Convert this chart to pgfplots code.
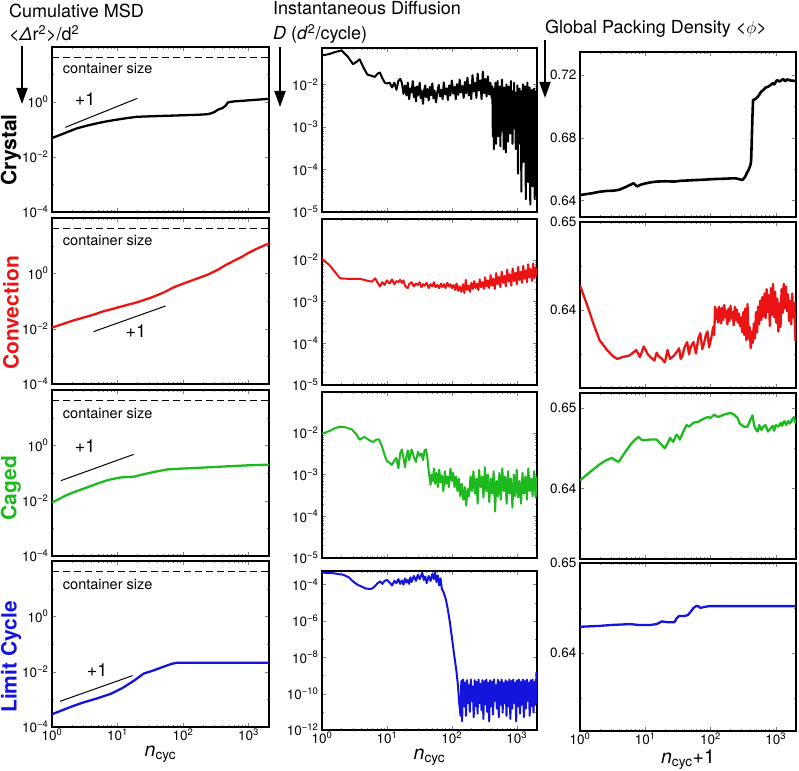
\documentclass[border=0pt]{standalone}
\usepackage{pgfplots}
\pgfplotsset{compat=1.18}
\usepackage{fontspec}
\setmainfont{TeX Gyre Heros}
\usetikzlibrary{arrows.meta}
\definecolor{cred}{RGB}{235,20,20}
\definecolor{cgreen}{RGB}{30,185,30}
\definecolor{cblue}{RGB}{20,20,220}
\newcommand\E[1]{10\textsuperscript{#1}}
\tikzset{
  mycs/.style={anchor=west, font=\fontsize{14.5}{14.5}\selectfont},
  myp1/.style={font=\fontsize{18}{18}\selectfont},
}
\pgfplotsset{
  mypan/.style={scale only axis, anchor=north west, xmin=1, xmax=2050,
    xtick={1,10,100,1000}, xticklabels={},
    axis line style={line width=1.2pt},
    major tick length=4pt, minor tick length=2.2pt,
    tick label style={font=\fontsize{13.5}{13.5}\selectfont}},
  mybot/.style={xticklabels={\E{0},\E{1},\E{2},\E{3}},
    xticklabel style={yshift=1.5pt},
    xlabel style={font=\fontsize{19.5}{19.5}\selectfont, inner sep=0pt, yshift=-1pt}},
  mymsd/.style={mypan, ymin=1e-4, ymax=100, ytick={1e-4,1e-2,1},
    yticklabels={\E{−4},\E{−2},\E{0}}, minor ytick={1e-3,0.1,10}},
  mydif/.style={mypan, ymin=1e-5, ytick={1e-5,1e-4,1e-3,1e-2},
    yticklabels={\E{−5},\E{−4},\E{−3},\E{−2}}},
  myden/.style={mypan, ytick={0.64,0.65}, yticklabels={0.64,0.65}, minor ytick={0.635,0.645}},
  mydat/.style={line width=2.3pt, line join=round},
  mynoise/.style={line width=2pt, line join=round},
  mybox/.style={black, dashed, line width=1.2pt, dash pattern=on 7pt off 4pt},
  myone/.style={black, line width=1pt},
}
\begin{document}
\begin{tikzpicture}
\useasboundingbox (0,0) rectangle (799pt,770pt);
% column titles
\node[anchor=base west, font=\fontsize{18}{18}\selectfont, inner sep=0pt] at (9pt,752pt) {Cumulative MSD};
\node[anchor=base west, font=\fontsize{18}{18}\selectfont, inner sep=0pt] at (9pt,729pt) {<\textit{Δ}r\textsuperscript{2}>/d\textsuperscript{2}};
\node[anchor=base west, font=\fontsize{18}{18}\selectfont, inner sep=0pt] at (273pt,755pt) {Instantaneous Diffusion};
\node[anchor=base west, font=\fontsize{18}{18}\selectfont, inner sep=0pt] at (273pt,730pt) {\textit{D} (\textit{d}\textsuperscript{2}/cycle)};
\node[anchor=base west, font=\fontsize{18}{18}\selectfont, inner sep=0pt] at (545pt,736pt) {Global Packing Density <$\phi$>};
\draw[-{Triangle[width=11pt,length=16pt]}, line width=2pt] (22pt,724pt) -- (22pt,666pt);
\draw[-{Triangle[width=11pt,length=16pt]}, line width=2pt] (280pt,723pt) -- (280pt,663pt);
\draw[-{Triangle[width=11pt,length=16pt]}, line width=2pt] (545pt,730pt) -- (545pt,672pt);
% row labels
\node[rotate=90, font=\bfseries\fontsize{21}{21}\selectfont] at (11pt,620pt) {Crystal};
\node[rotate=90, font=\bfseries\fontsize{21}{21}\selectfont, text=cred] at (11pt,457pt) {Convection};
\node[rotate=90, font=\bfseries\fontsize{21}{21}\selectfont, text=cgreen] at (11pt,282pt) {Caged};
\node[rotate=90, font=\bfseries\fontsize{21}{21}\selectfont, text=cblue] at (11pt,113pt) {Limit Cycle};

%% ---------- column 1: cumulative MSD ----------
\begin{loglogaxis}[mymsd, at={(52pt,723pt)}, width=217pt, height=165pt]
\addplot[mybox] coordinates {(1,42) (2050,42)};
\node[mycs] at (axis cs:1.3,17) {container size};
\addplot[myone] coordinates {(1.6,0.12) (20,1.35)};
\node[myp1] at (axis cs:3.2,1.25) {+1};
\addplot[mydat, black] coordinates {
(1,0.049) (1.3,0.062) (1.7,0.08) (2.4,0.11) (3.5,0.14) (5,0.17) (7,0.2) (10,0.23)
(14,0.26) (20,0.29) (30,0.3) (45,0.31) (70,0.32) (100,0.33) (150,0.34) (200,0.35)
(240,0.36) (280,0.4) (310,0.45) (330,0.5) (360,0.55) (400,0.6) (450,0.75) (480,0.95)
(520,1.0) (600,1.05) (800,1.1) (1000,1.15) (1300,1.2) (1600,1.25) (2050,1.3)};
\end{loglogaxis}

\begin{loglogaxis}[mymsd, at={(52pt,552pt)}, width=217pt, height=166pt]
\addplot[mybox] coordinates {(1,42) (2050,42)};
\node[mycs] at (axis cs:1.3,15) {container size};
\addplot[myone] coordinates {(4.3,0.0078) (54,0.066)};
\node[myp1] at (axis cs:19,0.008) {+1};
\addplot[mydat, cred] coordinates {
(1,0.011) (1.5,0.015) (2,0.019) (3,0.025) (4.3,0.032) (6,0.042) (8,0.05) (10,0.058)
(14,0.072) (20,0.09) (32,0.13) (50,0.2) (74,0.32) (100,0.42) (150,0.6) (240,0.9)
(350,1.4) (450,2.0) (610,2.9) (800,4.0) (1000,5.5) (1300,7.5) (1700,10) (2050,12)};
\end{loglogaxis}

\begin{loglogaxis}[mymsd, at={(52pt,380pt)}, width=217pt, height=166pt]
\addplot[mybox] coordinates {(1,42) (2050,42)};
\node[mycs] at (axis cs:1.3,14.5) {container size};
\addplot[myone] coordinates {(1.37,0.053) (17.6,0.47)};
\node[myp1] at (axis cs:3.2,0.9) {+1};
\addplot[mydat, cgreen] coordinates {
(1,0.0085) (1.5,0.014) (2,0.019) (3.4,0.03) (5,0.042) (7,0.055) (11,0.069) (18,0.074)
(25,0.09) (40,0.115) (59,0.135) (100,0.145) (240,0.16) (500,0.175) (1000,0.19) (2050,0.2)};
\end{loglogaxis}

\begin{loglogaxis}[mymsd, mybot, at={(52pt,209pt)}, width=217pt, height=166pt,
  xlabel={\textit{n}\textsubscript{cyc}}]
\addplot[mybox] coordinates {(1,42) (2050,42)};
\node[mycs] at (axis cs:1.3,14.5) {container size};
\addplot[myone] coordinates {(1.33,0.00085) (17,0.0072)};
\node[myp1] at (axis cs:4.9,0.011) {+1};
\addplot[mydat, cblue] coordinates {
(1,0.00029) (1.5,0.00042) (2,0.00055) (3,0.00077) (5,0.0011) (8,0.0016) (12,0.0026)
(18,0.0048) (25,0.0085) (35,0.011) (50,0.015) (66,0.019) (80,0.021) (100,0.021) (2050,0.021)};
\end{loglogaxis}

%% ---------- column 2: instantaneous diffusion ----------
\begin{loglogaxis}[mydif, at={(322pt,722pt)}, width=215pt, height=164pt, ymax=0.072]
\addplot[mynoise, black] coordinates {
(1,0.048) (1.3,0.052) (1.6,0.058) (2,0.063) (2.5,0.045) (3,0.03) (3.4,0.034) (3.8,0.039)
(4.3,0.026) (5,0.017) (5.8,0.016) (6.5,0.015) (7.2,0.018) (7.8,0.019) (8.5,0.014) (9.3,0.011)
(10,0.0105) (11,0.011) (12,0.0085) (13,0.011) (14,0.0075) (15,0.012) (16,0.0135) (17,0.011)
(18,0.006) (19,0.0095) (20,0.0055) (21,0.011) (22,0.0045) (23,0.008) (24,0.0065) (25,0.012)
(26,0.005) (27,0.0085) (28,0.004) (29,0.009) (30,0.0055) (32,0.011) (33,0.0048) (34,0.0072)
(36,0.0035) (37,0.0068) (39,0.0095) (40,0.005) (42,0.0078) (44,0.0042) (46,0.0088) (48,0.0056)
(50,0.0106) (52,0.0047) (54,0.0072) (57,0.0038) (60,0.0069) (63,0.0098) (66,0.0052) (69,0.0075)
(72,0.0045) (75,0.0112) (79,0.0058) (83,0.0081) (87,0.0043) (91,0.0095) (95,0.0055) (100,0.0124)
(105,0.0061) (110,0.0088) (115,0.0045) (120,0.0102) (126,0.0057) (132,0.013) (138,0.0065) (145,0.0092)
(152,0.0048) (159,0.0115) (166,0.0062) (174,0.0145) (182,0.0055) (190,0.0098) (199,0.0045) (208,0.0165)
(218,0.0068) (228,0.011) (239,0.0048) (250,0.018) (262,0.0072) (274,0.0125) (287,0.0045) (300,0.02)
(314,0.0062) (328,0.0135) (343,0.0052) (359,0.0155) (376,0.0058) (393,0.011) (410,0.0048) (420,0.009)
(428,0.0006) (436,0.006) (444,0.0003) (452,0.008) (461,0.0012) (470,0.011) (479,0.0004) (488,0.007)
(497,0.0018) (507,0.012) (517,0.0006) (527,0.005) (537,0.0025) (548,0.009) (559,0.00035) (570,0.0045)
(581,0.0015) (592,0.013) (604,0.0008) (616,0.006) (628,0.0003) (640,0.0085) (653,0.0012) (666,0.004)
(679,0.00025) (692,0.01) (706,0.0015) (720,0.006) (734,0.00045) (749,0.009) (764,0.002) (779,0.005)
(794,0.0007) (810,0.012) (826,0.0018) (842,0.007) (859,0.0004) (876,0.0045) (893,0.0025) (911,0.011)
(929,0.0009) (947,0.0065) (966,0.0003) (985,0.0055) (1005,0.0012) (1025,0.0095) (1045,0.00008) (1066,0.004)
(1087,0.0016) (1109,0.008) (1131,0.0004) (1154,0.006) (1177,0.00003) (1200,0.007) (1224,0.0011) (1248,0.01)
(1273,0.00015) (1299,0.005) (1325,0.0008) (1351,0.009) (1378,0.00002) (1406,0.0045) (1434,0.0006) (1462,0.011)
(1492,0.00005) (1521,0.006) (1552,0.0009) (1583,0.0085) (1614,0.000015) (1647,0.005) (1680,0.0003) (1713,0.0075)
(1747,0.00004) (1782,0.006) (1818,0.0012) (1854,0.008) (1891,0.00002) (1929,0.004) (1968,0.0005) (2007,0.007)
(2047,0.001)};
\end{loglogaxis}

\begin{loglogaxis}[mydif, at={(322pt,551pt)}, width=215pt, height=166pt, ymax=0.095]
\addplot[mynoise, cred] coordinates {
(1,0.0105) (1.3,0.0075) (1.6,0.005) (1.9,0.0036) (2.5,0.0035) (3,0.0035) (3.8,0.0035) (4.5,0.0033)
(5.2,0.0031) (5.9,0.003) (6.6,0.0036) (7.2,0.0028) (7.8,0.0023) (8.5,0.0029) (9.2,0.0025) (10,0.0032)
(11,0.0027) (12,0.0034) (13,0.0026) (14,0.0031) (15,0.0029) (16,0.0033) (17,0.0028) (18,0.0032)
(19,0.0024) (20,0.0022) (21,0.0021) (22,0.0026) (24,0.0029) (26,0.0023) (28,0.0027) (30,0.0025)
(32,0.0029) (34,0.0022) (36,0.0026) (38,0.0024) (41,0.0028) (44,0.0021) (47,0.0026) (50,0.0023)
(53,0.0029) (56,0.0022) (60,0.0025) (64,0.0021) (68,0.0027) (72,0.0022) (76,0.0026) (80,0.0021)
(85,0.0028) (90,0.0023) (95,0.0026) (100,0.0021) (106,0.0025) (112,0.0019) (118,0.0027) (125,0.0018)
(132,0.0023) (140,0.0017) (148,0.0026) (156,0.0016) (164,0.0033) (172,0.0019) (181,0.0024) (190,0.0017)
(200,0.0028) (210,0.002) (221,0.0031) (232,0.0021) (244,0.0027) (256,0.0019) (269,0.0034) (282,0.0022)
(296,0.0029) (311,0.002) (326,0.0038) (342,0.0023) (359,0.0032) (377,0.0021) (396,0.0043) (416,0.0024)
(437,0.0035) (459,0.002) (482,0.0048) (506,0.0026) (531,0.0039) (558,0.0022) (586,0.0052) (615,0.0028)
(646,0.0041) (678,0.0023) (712,0.0058) (748,0.003) (785,0.0045) (824,0.0024) (865,0.0062) (908,0.0031)
(953,0.0049) (1000,0.0026) (1050,0.0068) (1100,0.0033) (1150,0.0052) (1200,0.0028) (1260,0.0072) (1320,0.0035)
(1380,0.0055) (1440,0.0029) (1500,0.0078) (1570,0.0038) (1640,0.006) (1710,0.0031) (1790,0.0082) (1870,0.0036)
(1950,0.0065) (2047,0.004)};
\end{loglogaxis}

\begin{loglogaxis}[mydif, at={(322pt,378pt)}, width=215pt, height=166pt, ymax=0.095]
\addplot[mynoise, cgreen] coordinates {
(1,0.0095) (1.3,0.011) (1.6,0.013) (1.9,0.014) (2.3,0.0135) (2.9,0.012) (3.4,0.009) (3.8,0.0068)
(4.5,0.008) (5.2,0.0068) (6.1,0.006) (6.8,0.0068) (7.5,0.007) (8.5,0.0045) (9.3,0.0028) (10,0.0021)
(11,0.0019) (11.9,0.0017) (13,0.0022) (14,0.0025) (15,0.0014) (16,0.0032) (17,0.004) (18,0.0025)
(19,0.0015) (20,0.0028) (21,0.0038) (22,0.0022) (24,0.004) (26,0.0026) (28,0.002) (30,0.0035)
(32,0.0028) (34,0.0032) (36,0.0022) (38,0.0038) (40,0.004) (42,0.0025) (44,0.0012) (46,0.00075)
(47,0.00056) (49,0.001) (51,0.0007) (53,0.0014) (55,0.0006) (58,0.0011) (61,0.0005) (64,0.0013)
(67,0.00065) (70,0.00095) (74,0.0004) (78,0.0012) (82,0.0006) (86,0.0009) (90,0.0005) (95,0.0014)
(100,0.0007) (105,0.0011) (110,0.0005) (116,0.0009) (122,0.0004) (128,0.0008) (135,0.0003) (142,0.0006)
(150,0.00025) (158,0.0005) (166,0.00018) (175,0.00045) (184,0.0003) (194,0.0009) (204,0.0004) (215,0.0012)
(226,0.00035) (238,0.0008) (250,0.0002) (263,0.0013) (277,0.0005) (292,0.0009) (307,0.00028) (323,0.0015)
(340,0.0004) (358,0.001) (377,0.00022) (397,0.0008) (418,0.00035) (440,0.0012) (463,0.00013) (487,0.0007)
(513,0.0003) (540,0.0011) (568,0.00025) (598,0.0014) (630,0.0004) (663,0.0009) (698,0.0002) (735,0.0012)
(773,0.00035) (814,0.0008) (857,0.00016) (902,0.001) (949,0.0003) (999,0.0013) (1050,0.00028) (1105,0.0007)
(1165,0.0002) (1225,0.0011) (1290,0.00035) (1360,0.0009) (1430,0.00025) (1505,0.0014) (1585,0.0004) (1670,0.0008)
(1755,0.0003) (1850,0.0012) (1950,0.00028) (2047,0.0009)};
\end{loglogaxis}

\begin{loglogaxis}[mypan, mybot, at={(322pt,199pt)}, width=215pt, height=159pt,
  ymin=1e-12, ymax=5.6e-4, ytick={1e-12,1e-10,1e-8,1e-6,1e-4},
  yticklabels={\E{−12},\E{−10},\E{−8},\E{−6},\E{−4}}, minor ytick={1e-11,1e-9,1e-7,1e-5},
  xlabel={\textit{n}\textsubscript{cyc}}]
\addplot[mynoise, cblue] coordinates {
(1,0.00046) (1.5,0.00042) (2.1,0.00035) (2.6,0.00025) (3,0.00015) (3.5,0.0001) (4,0.00008) (4.8,0.00006)
(5.5,0.000058) (5.9,0.00006) (6.5,0.00008) (7.2,0.00012) (7.9,0.00015) (8.5,0.00011) (9.2,0.00016) (10,0.00018)
(11,0.00013) (12,0.00009) (13,0.00016) (14,0.00012) (15,0.0002) (16,0.00011) (17,0.00017) (18,0.0001)
(19,0.00022) (20,0.00013) (21,0.00018) (22,0.00011) (23,0.00025) (24,0.00014) (26,0.0003) (28,0.00016)
(30,0.00035) (32,0.0002) (35,0.00045) (37,0.00018) (39,0.00028) (41,0.00012) (44,0.0003) (47,0.00016)
(50,0.00038) (53,0.0002) (55,0.00048) (58,0.00014) (61,0.00032) (64,0.00009) (67,0.00022) (70,0.00006)
(75,3.6e-5) (81,1.5e-5) (87,4e-6) (93,9e-7) (100,1.3e-7) (107,2e-8) (117,2e-9) (124,3e-10)
(130,3e-11) (136,6e-12) (140,5e-10) (144,3e-12) (148,6e-10) (150,5e-10) (155,2e-11) (160,4e-10)
(165,6e-12) (171,5.5e-10) (177,3e-11) (183,3e-10) (189,1e-11) (196,6e-10) (203,4e-11) (210,2.5e-10)
(217,5e-12) (225,5.5e-10) (233,2e-11) (241,4.5e-10) (249,8e-12) (258,6e-10) (267,3e-11) (276,3.5e-10)
(286,1.2e-11) (296,5.5e-10) (306,4e-12) (317,4.8e-10) (328,2.5e-11) (339,6e-10) (351,1e-11) (363,4e-10)
(376,3e-12) (389,5.5e-10) (402,2e-11) (416,4.5e-10) (431,7e-12) (446,6e-10) (461,4e-11) (477,3e-10)
(494,1.5e-11) (511,5.8e-10) (529,5e-12) (547,4.5e-10) (566,2.5e-11) (586,6e-10) (606,9e-12) (627,3.8e-10)
(649,3e-11) (672,5.5e-10) (695,6e-12) (719,4.5e-10) (744,2e-11) (770,6e-10) (797,4e-12) (825,5e-10)
(853,1.5e-11) (883,6e-10) (914,3e-11) (946,4e-10) (979,3e-12) (1013,5.5e-10) (1048,2e-11) (1085,6e-10)
(1123,8e-12) (1162,4.5e-10) (1202,2.5e-11) (1244,6e-10) (1287,5e-12) (1332,5e-10) (1379,1.5e-11) (1427,6e-10)
(1477,4e-11) (1528,4e-10) (1581,6e-12) (1636,5.5e-10) (1693,2e-11) (1752,6e-10) (1813,9e-12) (1876,4.5e-10)
(1941,2.5e-11) (2010,1.5e-9) (2047,3e-11)};
\end{loglogaxis}

%% ---------- column 3: global packing density ----------
\begin{semilogxaxis}[mypan, at={(580pt,718pt)}, width=216pt, height=165pt,
  ymin=0.6294, ymax=0.7347, ytick={0.64,0.68,0.72}, yticklabels={0.64,0.68,0.72},
  minor ytick={0.66,0.70}]
\addplot[mydat, black, line width=2.6pt] coordinates {
(1,0.6434) (1.5,0.6445) (2,0.6455) (2.5,0.646) (3.3,0.6462) (4,0.6468) (5,0.6485) (5.6,0.6495)
(6.6,0.6509) (7.5,0.6489) (8.5,0.65) (10,0.6508) (12,0.6515) (15,0.652) (20,0.6522) (28,0.652)
(35,0.6525) (45,0.6527) (60,0.653) (80,0.6532) (100,0.6535) (130,0.6537) (160,0.6538) (200,0.654)
(240,0.6541) (280,0.6535) (310,0.653) (340,0.655) (360,0.6573) (390,0.66) (410,0.6626) (420,0.665)
(430,0.6785) (440,0.693) (450,0.704) (480,0.7045) (530,0.706) (570,0.708) (600,0.7094) (650,0.7105)
(700,0.712) (760,0.7125) (840,0.7136) (900,0.7148) (950,0.714) (1050,0.7168) (1150,0.7158) (1300,0.7174)
(1400,0.716) (1500,0.7172) (1700,0.7165) (2047,0.7162)};
\end{semilogxaxis}

\begin{semilogxaxis}[myden, at={(580pt,548pt)}, width=216pt, height=166pt, ymin=0.6312, ymax=0.65]
\addplot[mydat, cred] coordinates {
(1,0.6428) (1.3,0.6405) (1.6,0.6385) (2,0.6366) (2.6,0.6355) (3.2,0.6348) (3.7,0.6345) (4.5,0.6347)
(5.8,0.6349) (7.3,0.6355) (8.3,0.6347) (9.5,0.6359) (11,0.635) (12.5,0.6346) (13.8,0.6343) (15,0.6352)
(16,0.6348) (18,0.6345) (20,0.6341) (22,0.6355) (24,0.6345) (27,0.6348) (30,0.6352) (33,0.6357)
(35,0.6345) (37,0.6348) (40,0.6358) (44,0.6364) (47,0.635) (50,0.6359) (55,0.6364) (60,0.6351)
(65,0.6368) (70,0.6374) (75,0.6356) (80,0.6363) (85,0.6372) (90,0.6376) (95,0.6358) (100,0.6365)
(105,0.6372) (110,0.6381) (114,0.6372) (118,0.6404) (122,0.639) (126,0.6401) (131,0.6386) (136,0.6404)
(141,0.6393) (146,0.6385) (151,0.6403) (157,0.6389) (163,0.6406) (169,0.6392) (175,0.6399) (182,0.6384)
(189,0.6402) (196,0.6388) (203,0.6405) (211,0.6391) (219,0.6398) (227,0.6383) (236,0.6404) (245,0.6389)
(254,0.6401) (264,0.6386) (274,0.6396) (284,0.6382) (295,0.6392) (306,0.6375) (318,0.6398) (330,0.6372)
(343,0.6402) (356,0.6366) (370,0.6407) (384,0.6368) (399,0.6381) (414,0.6357) (430,0.6376) (446,0.6363)
(463,0.6385) (481,0.6368) (499,0.6398) (518,0.6375) (538,0.6404) (559,0.6384) (580,0.6411) (602,0.6389)
(625,0.6415) (649,0.6393) (674,0.6419) (700,0.6391) (727,0.6424) (755,0.6398) (784,0.6417) (814,0.6382)
(845,0.6425) (877,0.6395) (911,0.643) (946,0.6392) (982,0.6421) (1020,0.6386) (1059,0.6413) (1100,0.6376)
(1142,0.6408) (1186,0.6381) (1231,0.6424) (1278,0.6397) (1327,0.643) (1378,0.6402) (1431,0.6427) (1486,0.6399)
(1543,0.6418) (1602,0.6388) (1664,0.6411) (1728,0.6384) (1794,0.6419) (1863,0.6392) (1934,0.6408) (2000,0.6366)
(2047,0.6378)};
\end{semilogxaxis}

\begin{semilogxaxis}[myden, at={(580pt,377pt)}, width=216pt, height=166pt, ymin=0.6312, ymax=0.6519]
\addplot[mydat, cgreen] coordinates {
(1,0.641) (1.5,0.6422) (2,0.643) (2.5,0.6435) (3.07,0.6438) (3.5,0.6435) (3.9,0.6433) (5,0.6446)
(6,0.6455) (7,0.6461) (7.9,0.6464) (9,0.646) (10,0.646) (12,0.6461) (15,0.6461) (17,0.6456)
(20,0.645) (22,0.6456) (24,0.6463) (27,0.6458) (30,0.6467) (32,0.6465) (34,0.6461) (37,0.6468)
(40,0.6474) (43,0.6479) (47,0.6477) (55,0.6482) (65,0.6483) (75,0.6486) (90,0.6489) (100,0.6488)
(115,0.6492) (130,0.6489) (150,0.6491) (175,0.6493) (205,0.6494) (230,0.6492) (260,0.6488) (280,0.6481)
(300,0.6479) (330,0.6477) (370,0.6477) (400,0.6484) (440,0.6491) (470,0.6478) (500,0.6473) (530,0.6471)
(560,0.6479) (600,0.6473) (650,0.6477) (700,0.6479) (760,0.6471) (820,0.6474) (900,0.6478) (950,0.6472)
(1000,0.6479) (1100,0.6477) (1200,0.6482) (1250,0.6478) (1350,0.6484) (1450,0.6479) (1550,0.6484) (1650,0.6481)
(1800,0.6486) (1900,0.6489) (2000,0.6482) (2047,0.6484)};
\end{semilogxaxis}

\begin{semilogxaxis}[myden, mybot, at={(580pt,207pt)}, width=216pt, height=168pt, ymin=0.6313, ymax=0.65,
  xlabel={\textit{n}\textsubscript{cyc}+1}]
\addplot[mydat, cblue] coordinates {
(1,0.6429) (2,0.643) (3,0.6431) (5.9,0.6432) (8,0.6431) (10,0.6431) (12,0.6431) (15,0.6432)
(18,0.6435) (22,0.6434) (28,0.6434) (30,0.6438) (33,0.6441) (40,0.6441) (45,0.6442) (50,0.6446)
(55,0.645) (60,0.6452) (65,0.6452) (70,0.645) (80,0.6451) (95,0.6452) (2047,0.6452)};
\end{semilogxaxis}
\end{tikzpicture}
\end{document}
